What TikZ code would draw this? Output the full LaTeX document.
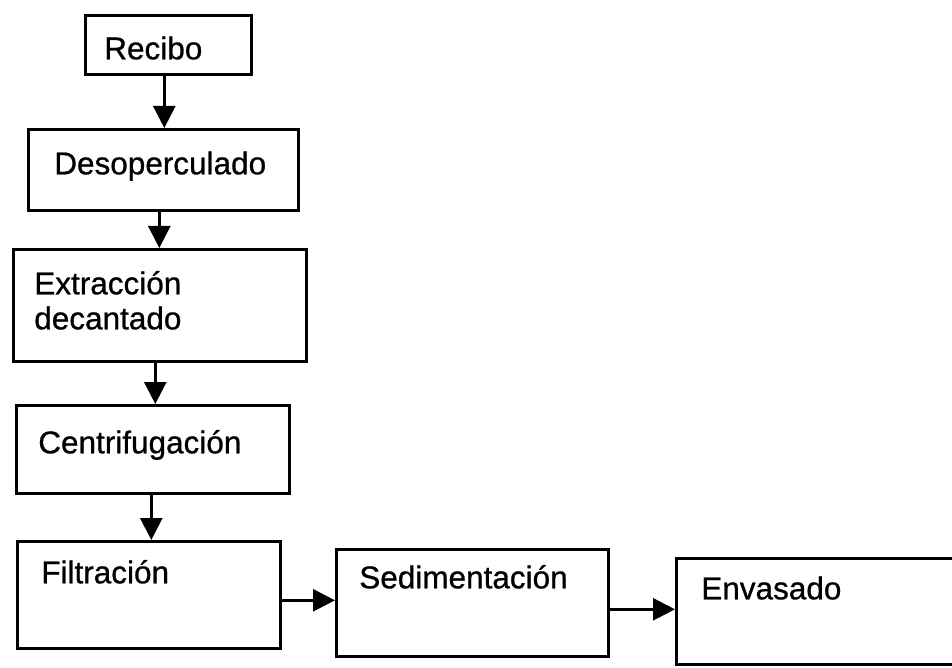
\documentclass[tikz,border=0pt]{standalone}
\usepackage{fontspec}
\setmainfont{Liberation Sans}[FakeBold=0.8]
\usetikzlibrary{arrows.meta}
\tikzset{
  stagebox/.style={draw=black, line width=2.6pt, anchor=north west, align=left,
    inner ysep=0pt, font=\fontsize{31.5}{35}\selectfont},
  flowarrow/.style={draw=black, line width=2.6pt,
    -{Triangle[length=22pt,width=22pt]}}
}
\begin{document}
\begin{tikzpicture}[x=1pt,y=-1pt]
\clip (0,0) rectangle (952,668);
\fill[white] (0,0) rectangle (952,668);
% boxes: inner xsep = left offset of text, text width = W - 2*offset
\node[stagebox, inner xsep=19pt, text width=128pt, text height=44pt, text depth=15pt] (recibo) at (84,14) {Recibo};
\node[stagebox, inner xsep=26pt, text width=218pt, text height=45pt, text depth=36pt] (desop) at (27,128) {Desoperculado};
\node[stagebox, inner xsep=21pt, text width=251pt, text height=45pt, text depth=67pt] (extr) at (12,248) {Extracción\\decantado};
\node[stagebox, inner xsep=22pt, text width=229pt, text height=48pt, text depth=40pt] (centr) at (15,404) {Centrifugación};
\node[stagebox, inner xsep=24pt, text width=215pt, text height=42pt, text depth=65pt] (filtr) at (16,540) {Filtración};
\node[stagebox, inner xsep=23pt, text width=226pt, text height=39pt, text depth=68pt] (sedim) at (335,548) {Sedimentación};
\node[stagebox, inner xsep=25pt, text width=320pt, text height=41pt, text depth=65pt] (envas) at (675,557) {Envasado};
% connectors
\draw[flowarrow] ([xshift=-4pt]recibo.south) -- ([xshift=-4pt]recibo.south |- desop.north);
\draw[flowarrow] ([xshift=-4pt]desop.south) -- ([xshift=-4pt]desop.south |- extr.north);
\draw[flowarrow] ([xshift=-4.5pt]extr.south) -- ([xshift=-4.5pt]extr.south |- centr.north);
\draw[flowarrow] ([xshift=-1.5pt]centr.south) -- ([xshift=-1.5pt]centr.south |- filtr.north);
\draw[flowarrow] ([yshift=-5.5pt]filtr.east) -- ([yshift=-5.5pt]filtr.east -| sedim.west);
\draw[flowarrow] ([yshift=-6.5pt]sedim.east) -- ([yshift=-6.5pt]sedim.east -| envas.west);
\end{tikzpicture}
\end{document}
